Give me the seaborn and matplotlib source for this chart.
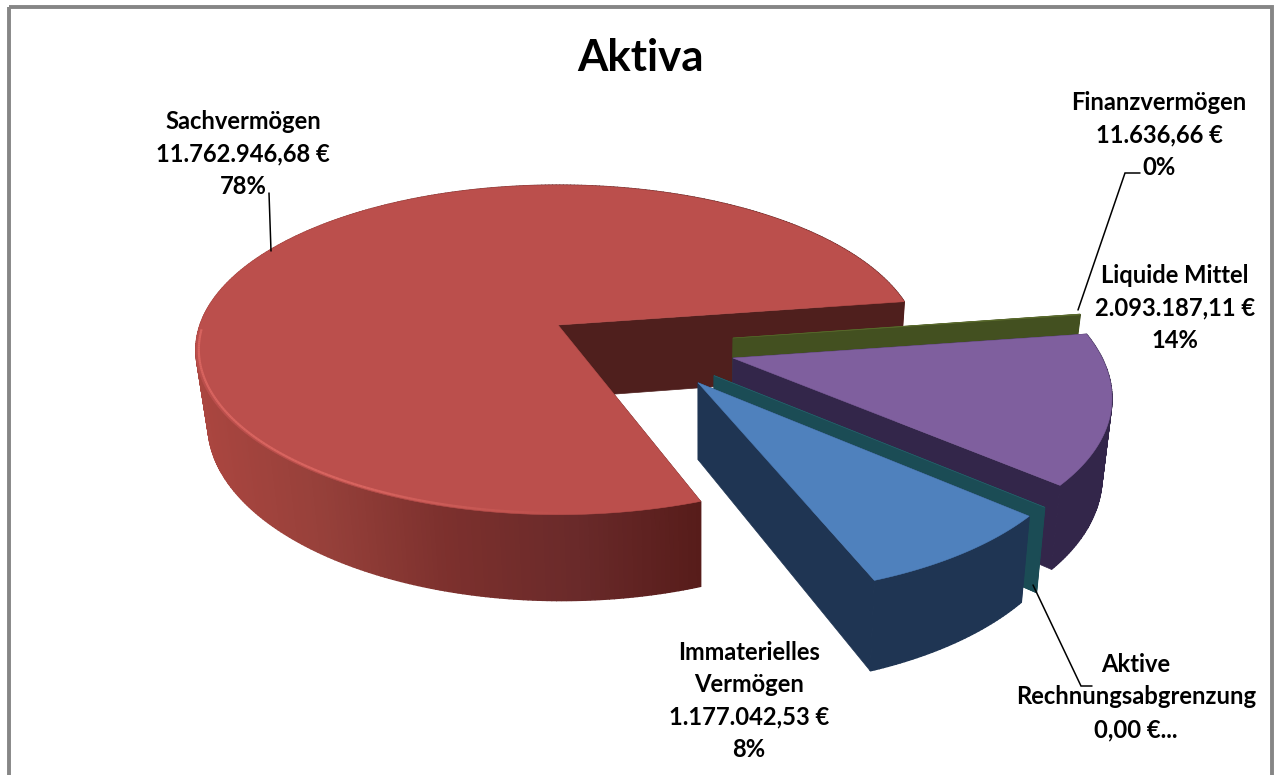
import numpy as np
import matplotlib
matplotlib.use("Agg")
import matplotlib.pyplot as plt
from matplotlib.colors import LinearSegmentedColormap
from matplotlib.patches import Rectangle
import seaborn as sns

# --- data (clockwise order of the pie) -------------------------------
categories = ["Sachvermögen", "Finanzvermögen", "Liquide Mittel",
              "Aktive Rechnungsabgrenzung", "Immaterielles Vermögen"]
values = [11762946.68, 11636.66, 2093187.11, 0.00, 1177042.53]
labels = ["Sachvermögen\n11.762.946,68 €\n78%",
          "Finanzvermögen\n11.636,66 €\n0%",
          "Liquide Mittel\n2.093.187,11 €\n14%",
          "Aktive\nRechnungsabgrenzung\n0,00 €...",
          "Immaterielles\nVermögen\n1.177.042,53 €\n8%"]

# --- style ------------------------------------------------------------
top_colors = ["#bb4f4c", "#5a6b2c", "#7f5f9e", "#2a6672", "#4f81bd"]
wall_colors = ["#4f1f1d", "#435020", "#33264a", "#1b4c55", "#1f3553"]
offsets = [(0.0, 0.0), (0.483, -0.08), (0.474, -0.199), (0.416, -0.30), (0.371, -0.34)]
label_xy = [(243, 154), (1159, 135), (1175, 308), (1136, 697), (749, 701)]
start_deg = -70.0          # where the first slice starts, going clockwise
CX, CY, A, B, K, H = 558.0, 325.0, 358.0, 161.0, 0.151, 73.0
VANISH_X, LEAN = 700.0, 0.024

sns.set_theme(style="white")
plt.rcParams["font.family"] = ["Lato", "DejaVu Sans"]
plt.rcParams["font.weight"] = "bold"

fig = plt.figure(figsize=(12.75, 7.75), dpi=100)
ax = fig.add_axes([0, 0, 1, 1])
ax.set_xlim(0, 1275)
ax.set_ylim(775, 0)
ax.axis("off")


def project(X, Y, depth=0.0):
    s = 1.0 / (1.0 + K * np.asarray(Y))
    x = CX + A * np.asarray(X) * s
    return x - LEAN * depth * (x - VANISH_X), CY - B * np.asarray(Y) * s + H * depth * s


share = np.array(values) / np.sum(values) * 360.0
ends = start_deg - np.cumsum(share)
starts = ends + share
red_side = LinearSegmentedColormap.from_list(
    "side", ["#ab4640", "#96403a", "#7c302d", "#6a2a2a", "#571c1a"])


def draw_wall(i, t, z):
    ox, oy = offsets[i]
    ex, ey = ox + np.cos(t), oy + np.sin(t)
    xt, yt = project([ox, ex], [oy, ey], 0)
    xb, yb = project([ex, ox], [ey, oy], 1)
    ax.fill(np.r_[xt, xb], np.r_[yt, yb], color=wall_colors[i], lw=0.5, zorder=z)


def draw_slice(i, z):
    ox, oy = offsets[i]
    th = np.radians(np.linspace(starts[i], ends[i], max(2, int(share[i] * 1.5) + 2)))
    X, Y = ox + np.cos(th), oy + np.sin(th)
    draw_wall(i, th[0], z)
    # outer side, back to front
    order = np.argsort(-Y[:-1])
    for j in order:
        xt, yt = project(X[j:j + 2], Y[j:j + 2], 0)
        xb, yb = project(X[j:j + 2][::-1], Y[j:j + 2][::-1], 1)
        if i == 0:
            c = red_side(np.clip((xt.mean() - 195) / 505, 0, 1))
        else:
            c = wall_colors[i]
        ax.fill(np.r_[xt, xb], np.r_[yt, yb], color=c, lw=1.0, zorder=z + 0.1)
    draw_wall(i, th[-1], z + 0.15)
    # top face
    xt, yt = project(np.r_[ox, X], np.r_[oy, Y], 0)
    ax.fill(xt, yt, color=top_colors[i], lw=0.4, zorder=z + 0.2)
    if i == 0:  # bevel highlight along the front rim
        for j in range(len(th) - 1):
            deg = np.degrees(th[j]) % 360
            if 182 < deg < 288:
                a = 0.65 * np.clip((272 - deg) / 30, 0.0, 1.0)
                xr, yr = project(0.992 * np.cos(th[j:j + 2]), 0.992 * np.sin(th[j:j + 2]), 0)
                ax.plot(xr, yr, color="#e8706a", lw=1.6, alpha=a, zorder=z + 0.3,
                        solid_capstyle="butt")


for i in range(len(values)):
    draw_slice(i, 2 + i)

# leader lines
for lx, ly in [([269, 271], [193, 251]),
               ([1140, 1125, 1078], [173, 173, 310]),
               ([1092, 1081, 1033], [686, 686, 585])]:
    ax.plot(lx, ly, color="black", lw=1.1, zorder=8, solid_joinstyle="miter")

# labels
for txt, (x, y) in zip(labels, label_xy):
    ax.text(x, y, txt, ha="center", va="center", fontsize=17.1, fontweight="bold",
            color="black", linespacing=1.5, zorder=9)
ax.text(640, 58, "Aktiva", ha="center", va="center", fontsize=31.5, fontweight="bold",
        color="black", zorder=9)

# chart frame
ax.add_patch(Rectangle((8.5, 7), 1263.5, 800, fill=False, edgecolor="#868686",
                       lw=2.8, zorder=10))
fig.savefig("out.png", dpi=100, facecolor="white")
